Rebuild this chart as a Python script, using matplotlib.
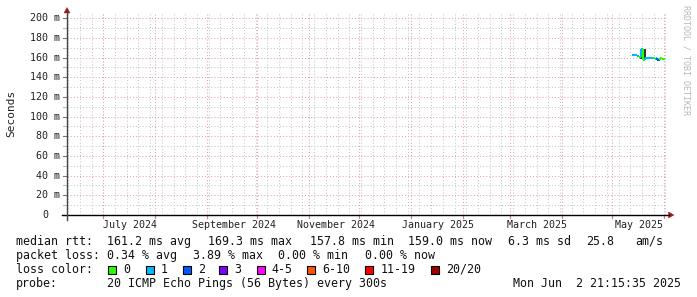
import matplotlib
matplotlib.use("Agg")
import matplotlib.pyplot as plt
import matplotlib.dates as mdates
from matplotlib.patches import Rectangle, Polygon
from matplotlib.collections import LineCollection
from datetime import datetime, timedelta
import pandas as pd

# ---------------- data ----------------
x_start = datetime(2024, 6, 9, 7, 12)
x_end = datetime(2025, 6, 2, 23, 0)

sample_times = pd.date_range("2025-05-13 05:00", periods=33, freq="51840s").to_pydatetime()
median_ms = [163.0, 163.0, 163.0, 162.5, 162.5, 162.0, 161.5, 161.0, 161.0, 169.0,
             169.0, 157.8, 158.0, 160.0, 159.5, 159.5, 160.0, 160.0, 159.5, 159.5,
             159.5, 159.5, 159.5, 159.0, 159.5, 158.0, 158.0, 158.0, 159.5, 159.5,
             159.0, 159.0, 159.0]
loss_count = [1, 1, 1, 1, 1, 1, 1, 0, 0, 1,
              1, 0, 0, 1, 1, 1, 1, 1, 1, 1,
              1, 0, 0, 0, 1, 2, 2, 2, 0, 0,
              0, 0, 0]

smoke_idx = [8, 12]
smoke_lo = [158.5, 158.0]
smoke_hi = [169.0, 169.0]

y_ticks = [0, 20, 40, 60, 80, 100, 120, 140, 160, 180, 200]
y_tick_labels = ["0", "20 m", "40 m", "60 m", "80 m", "100 m", "120 m", "140 m", "160 m", "180 m", "200 m"]
x_label_text = ["July 2024", "September 2024", "November 2024", "January 2025", "March 2025", "May 2025"]
x_label_month = [datetime(2024, 7, 1), datetime(2024, 9, 1), datetime(2024, 11, 1),
                 datetime(2025, 1, 1), datetime(2025, 3, 1), datetime(2025, 5, 1)]

loss_labels = ["0", "1", "2", "3", "4-5", "6-10", "11-19", "20/20"]
loss_colors = ["#26ff00", "#00b8ff", "#0059ff", "#7e00ff", "#ff00ff", "#ff5500", "#ff0000", "#a10000"]

stats_line1 = ["median rtt:", "161.2 ms avg", "169.3 ms max", "157.8 ms min", "159.0 ms now", "6.3 ms sd", "25.8", "am/s"]
stats_line2 = ["packet loss:", "0.34 % avg", "3.89 % max", "0.00 % min", "0.00 % now"]
probe_text = ["probe:", "20 ICMP Echo Pings (56 Bytes) every 300s"]
stamp_text = "Mon Jun  2 21:15:35 2025"

# ---------------- layout ----------------
W, H = 697, 297
MONO = "DejaVu Sans Mono"
fig = plt.figure(figsize=(W / 100, H / 100), dpi=100)
fig.patch.set_facecolor("white")

def fx(x):
    return x / W

def fy(y):
    return 1 - y / H

L, R, T, B = 67, 667, 13, 215
ax = fig.add_axes([fx(L), fy(B), (R - L) / W, (B - T) / H])
ax.set_facecolor("white")
ymax = (B - T) / ((B - 18.3) / 200.0)
ax.set_ylim(0, ymax)
ax.set_xlim(mdates.date2num(x_start), mdates.date2num(x_end))
for s in ax.spines.values():
    s.set_visible(False)
ax.set_xticks([])
ax.set_yticks([])

minor_c = "#c8c8c8"
major_c = "#eba3a3"
dot = (0, (1, 2))

# horizontal grid
for v in range(10, 210, 10):
    if v > ymax:
        break
    ax.axhline(v, color=major_c if v % 20 == 0 else minor_c, lw=0.75, ls=dot, zorder=1)

# vertical grid: weekly (Mondays) and monthly
d = datetime(2024, 6, 10)
while d < x_end:
    ax.axvline(mdates.date2num(d), color=minor_c, lw=0.75, ls=dot, zorder=1)
    d += timedelta(days=7)
months = []
m = datetime(2024, 7, 1)
while m < x_end:
    months.append(m)
    ax.axvline(mdates.date2num(m), color=major_c, lw=0.75, ls=dot, zorder=1.5)
    m = datetime(m.year + (m.month // 12), m.month % 12 + 1, 1)

# tick marks below x axis
for mm in months:
    ax.plot([mdates.date2num(mm)] * 2, [0, -3.5], color="#e08080", lw=0.9, clip_on=False, zorder=3)
# y-axis ticks
for v in range(0, 210, 10):
    if v > ymax:
        break
    ax.plot([mdates.date2num(x_start) - 2.4, mdates.date2num(x_start)], [v, v],
            color="#777777" if v % 20 == 0 else "#bbbbbb", lw=0.8, clip_on=False, zorder=3)

# ---------------- data marks ----------------
tn = mdates.date2num(sample_times)
step = tn[1] - tn[0]
ax.vlines([tn[i] + step / 2 for i in smoke_idx], smoke_lo, smoke_hi, color="#1c1c1c", lw=1.3, zorder=4)

def loss_color(n):
    if n <= 3:
        return loss_colors[n]
    if n <= 5:
        return loss_colors[4]
    if n <= 10:
        return loss_colors[5]
    if n <= 19:
        return loss_colors[6]
    return loss_colors[7]

segs, cols = [], []
for i in range(len(tn)):
    c = loss_color(loss_count[i])
    segs.append([(tn[i], median_ms[i]), (tn[i] + step, median_ms[i])])
    cols.append(c)
    if i > 0 and median_ms[i] != median_ms[i - 1]:
        segs.append([(tn[i], median_ms[i - 1]), (tn[i], median_ms[i])])
        cols.append(c)
ax.add_collection(LineCollection(segs, colors=cols, linewidths=1.5, zorder=5))

# ---------------- axes lines & arrows ----------------
fig.add_artist(plt.Line2D([fx(62), fx(669)], [fy(B), fy(B)], color="black", lw=1.0, transform=fig.transFigure))
fig.add_artist(plt.Line2D([fx(L), fx(L)], [fy(220), fy(12)], color="#444444", lw=1.0, transform=fig.transFigure))
arrow_c = "#a01818"
fig.add_artist(Polygon([(fx(64), fy(13)), (fx(70), fy(13)), (fx(67), fy(7.5))], closed=True,
                       facecolor=arrow_c, edgecolor=arrow_c, lw=0.3, transform=fig.transFigure))
fig.add_artist(Polygon([(fx(668.5), fy(212)), (fx(668.5), fy(218)), (fx(674), fy(B))], closed=True,
                       facecolor=arrow_c, edgecolor=arrow_c, lw=0.3, transform=fig.transFigure))

# y tick labels
for v, lab in zip(y_ticks, y_tick_labels):
    yp = B - v * (B - 18.3) / 200.0
    if lab == "0":
        fig.text(fx(48), fy(yp), lab, ha="right", va="center", fontsize=7.2, family=MONO, color="#222222")
    else:
        fig.text(fx(60), fy(yp), lab, ha="right", va="center", fontsize=7.2, family=MONO, color="#222222")

# x labels (centered mid-month)
for mm, lab in zip(x_label_month, x_label_text):
    xc = mdates.date2num(mm + timedelta(days=16))
    ax.text(xc, -10.5, lab, ha="center", va="center", fontsize=7.2, family=MONO, color="#222222",
            clip_on=False)

# y axis title
fig.text(fx(11), fy(113.5), "Seconds", rotation=90, ha="center", va="center", fontsize=8, family=MONO,
         color="#222222")

# watermark
fig.text(fx(686), fy(60), "RRDTOOL / TOBI OETIKER", rotation=270, ha="center", va="center",
         fontsize=6, family=MONO, color="#b8b8b8")

# ---------------- legend / stats ----------------
FS = 8.4
x1 = [16, 107.3, 208.3, 310, 408.3, 507.7, 586, 635.7]
for x, s in zip(x1, stats_line1):
    fig.text(fx(x), fy(245), s, ha="left", va="baseline", fontsize=FS, family=MONO, color="#111111")
x2 = [16, 107.3, 193.3, 278.3, 365]
for x, s in zip(x2, stats_line2):
    fig.text(fx(x), fy(259), s, ha="left", va="baseline", fontsize=FS, family=MONO, color="#111111")

fig.text(fx(16), fy(273), "loss color:", ha="left", va="baseline", fontsize=FS, family=MONO, color="#111111")
box_x = [108.3, 145.7, 182.7, 219.3, 256.7, 307.3, 365.3, 430.7]
for bx, lab, c in zip(box_x, loss_labels, loss_colors):
    fig.add_artist(Rectangle((fx(bx), fy(273.5)), 8 / W, 8 / H, transform=fig.transFigure,
                             facecolor=c, edgecolor="black", lw=0.8))
    fig.text(fx(bx + 15), fy(273), lab, ha="left", va="baseline", fontsize=FS, family=MONO, color="#111111")

fig.text(fx(16), fy(287), probe_text[0], ha="left", va="baseline", fontsize=FS, family=MONO, color="#111111")
fig.text(fx(107.3), fy(287), probe_text[1], ha="left", va="baseline", fontsize=FS, family=MONO, color="#111111")
fig.text(fx(681), fy(287), stamp_text, ha="right", va="baseline", fontsize=FS, family=MONO, color="#111111")

fig.savefig("out.png", dpi=100, facecolor="white")
